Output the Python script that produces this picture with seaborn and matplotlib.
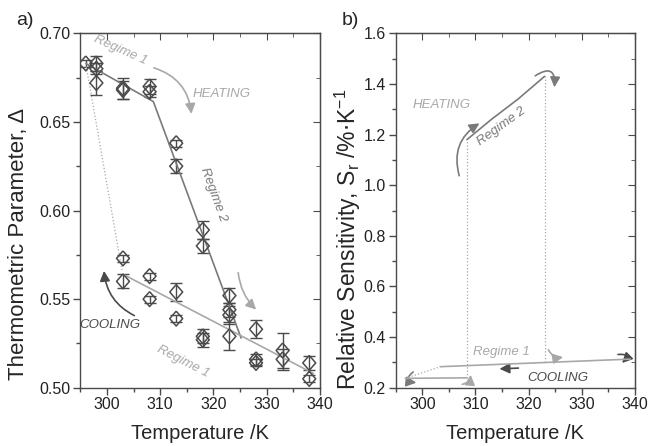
import numpy as np
import pandas as pd
import seaborn as sns
import matplotlib.pyplot as plt
from matplotlib.patches import FancyArrowPatch
from matplotlib.ticker import MultipleLocator

sns.set_style("ticks")
plt.rcParams['font.family'] = ['Liberation Sans', 'DejaVu Sans']

# ---- panel a data (temperature, thermometric parameter, error) ----
temp_a = [296, 298, 298, 298, 303, 303, 308, 308, 313, 313, 318, 318, 323, 323, 323,
          328, 328, 328, 333, 333, 338, 338,
          303, 303, 308, 308, 313, 313, 318, 318, 323]
delta_a = [0.683, 0.683, 0.680, 0.672, 0.669, 0.668, 0.670, 0.667, 0.638, 0.625, 0.589, 0.580,
           0.552, 0.544, 0.541, 0.533, 0.516, 0.514, 0.521, 0.516, 0.514, 0.505,
           0.573, 0.560, 0.563, 0.550, 0.554, 0.539, 0.529, 0.527, 0.529]
err_a = [0.002, 0.004, 0.003, 0.007, 0.006, 0.005, 0.004, 0.003, 0.002, 0.004, 0.005, 0.004,
         0.004, 0.004, 0.005, 0.005, 0.003, 0.002, 0.010, 0.006, 0.004, 0.002,
         0.002, 0.004, 0.002, 0.002, 0.005, 0.002, 0.004, 0.004, 0.008]

# fit lines
heat_T = [296, 308.7, 325.2]
heat_D = [0.683, 0.6615, 0.528]
cool_T = [303, 338.8]
cool_D = [0.564, 0.508]
jump_T = [296, 302.8]
jump_D = [0.683, 0.5665]

# ---- panel b data (relative sensitivity) ----
r2_T = [308.4, 313, 318, 323]
r2_S = [1.18, 1.26, 1.34, 1.43]
r1_T = [303.4, 339.1]
r1_S = [0.283, 0.313]
low_T = [296.8, 308.4]
low_S = [0.237, 0.239]
drop_T = [296.8, 303.4]
drop_S = [0.237, 0.283]

fig = plt.figure(figsize=(6.49, 4.46), dpi=100)
ax1 = fig.add_axes([0.1239, 0.1307, 0.369, 0.7946])
ax2 = fig.add_axes([0.6097, 0.1307, 0.3687, 0.7946])

dark = '#4a4a4a'
mid = '#7a7a7a'
light = '#a8a8a8'
diamond = [(0, 1.15), (1, 0), (0, -1.15), (-1, 0), (0, 1.15)]

# panel a
df_a = pd.DataFrame({'T': temp_a, 'D': delta_a, 'e': err_a})
ax1.errorbar(df_a['T'], df_a['D'], yerr=df_a['e'], fmt='none', ecolor=dark,
             elinewidth=1, capsize=4, capthick=1, zorder=2)
sns.lineplot(x=heat_T, y=heat_D, ax=ax1, color=mid, lw=1.2, zorder=3)
sns.lineplot(x=cool_T, y=cool_D, ax=ax1, color=light, lw=1.2, zorder=3)
ax1.plot(jump_T, jump_D, color=light, lw=0.9, ls=':', zorder=3)
sns.scatterplot(data=df_a, x='T', y='D', ax=ax1, marker=diamond, s=115,
                facecolor='none', edgecolor=dark, linewidth=1.1, zorder=4)

ax1.set_xlim(295, 340)
ax1.set_ylim(0.50, 0.70)
ax1.xaxis.set_major_locator(MultipleLocator(10))
ax1.xaxis.set_minor_locator(MultipleLocator(5))
ax1.yaxis.set_major_locator(MultipleLocator(0.05))
ax1.yaxis.set_minor_locator(MultipleLocator(0.025))
ax1.yaxis.set_major_formatter(plt.FormatStrFormatter('%.2f'))
ax1.set_xlabel('Temperature /K', fontsize=14.5, labelpad=8)
ax1.set_ylabel('Thermometric Parameter, Δ', fontsize=16)
ax1.yaxis.set_label_coords(-0.214, 0.405)

ti = dict(fontstyle='italic', fontsize=9.5)
ax1.text(302.5, 0.6906, 'Regime 1', color=light, rotation=-24, ha='center', va='center', **ti)
ax1.text(321.6, 0.666, 'HEATING', color=light, ha='center', va='center', **ti)
ax1.text(320, 0.609, 'Regime 2', color=mid, rotation=-70, ha='center', va='center', **ti)
ax1.text(300.6, 0.5356, 'COOLING', color=dark, ha='center', va='center', **ti)
ax1.text(314.3, 0.5148, 'Regime 1', color=light, rotation=-27, ha='center', va='center', **ti)
ax1.text(-0.231, 1.0375, 'a)', fontsize=14, ha='center', va='center', transform=ax1.transAxes)

hs = '-|>,head_length=6,head_width=3'
ax1.add_patch(FancyArrowPatch((308.3, 0.681), (315.9, 0.653), connectionstyle='arc3,rad=-0.35',
                              arrowstyle=hs, color=light, lw=1.2))
ax1.add_patch(FancyArrowPatch((324.6, 0.5665), (328.4, 0.543), connectionstyle='arc3,rad=0.2',
                              arrowstyle=hs, color=light, lw=1.2))
ax1.add_patch(FancyArrowPatch((305.6, 0.540), (299.4, 0.5675), connectionstyle='arc3,rad=-0.3',
                              arrowstyle=hs, color=dark, lw=1.2))

# panel b
sns.lineplot(x=r2_T, y=r2_S, ax=ax2, color=mid, lw=1.2)
sns.lineplot(x=r1_T, y=r1_S, ax=ax2, color=light, lw=1.2)
sns.lineplot(x=low_T, y=low_S, ax=ax2, color=light, lw=1.2)
ax2.plot(drop_T, drop_S, color=light, lw=0.9, ls=':')
ax2.plot([r2_T[0], r2_T[0]], [low_S[1], r2_S[0]], color=light, lw=0.9, ls=':')
ax2.plot([r2_T[-1], r2_T[-1]], [0.30, r2_S[-1]], color=light, lw=0.9, ls=':')

ax2.set_xlim(295, 340)
ax2.set_ylim(0.2, 1.6)
ax2.xaxis.set_major_locator(MultipleLocator(10))
ax2.xaxis.set_minor_locator(MultipleLocator(5))
ax2.yaxis.set_major_locator(MultipleLocator(0.2))
ax2.yaxis.set_minor_locator(MultipleLocator(0.1))
ax2.yaxis.set_major_formatter(plt.FormatStrFormatter('%.1f'))
ax2.set_xlabel('Temperature /K', fontsize=14.5, labelpad=8)
ax2.set_ylabel('Relative Sensitivity, S$_\\mathregular{r}$ /%$\\cdot$K$^\\mathregular{-1}$', fontsize=16.5)
ax2.yaxis.set_label_coords(-0.138, 0.42)

ax2.text(303.7, 1.317, 'HEATING', color=light, ha='center', va='center', **ti)
ax2.text(314.9, 1.231, 'Regime 2', color=mid, rotation=36, ha='center', va='center', **ti)
ax2.text(314.9, 0.343, 'Regime 1', color=light, ha='center', va='center', **ti)
ax2.text(325.4, 0.237, 'COOLING', color=dark, ha='center', va='center', **ti)
ax2.text(-0.191, 1.0375, 'b)', fontsize=14, ha='center', va='center', transform=ax2.transAxes)

ax2.add_patch(FancyArrowPatch((307.1, 1.027), (311.2, 1.25), connectionstyle='arc3,rad=-0.4',
                              arrowstyle=hs, color=mid, lw=1.2))
ax2.add_patch(FancyArrowPatch((320.8, 1.426), (324.8, 1.376), connectionstyle='arc3,rad=-1.1',
                              arrowstyle=hs, color=mid, lw=1.2))
ax2.add_patch(FancyArrowPatch((323.5, 0.36), (327, 0.323), connectionstyle='arc3,rad=0.45',
                              arrowstyle=hs, color=light, lw=1.2))
ax2.add_patch(FancyArrowPatch((336.3, 0.33), (337.2, 0.29), connectionstyle='arc3,rad=-1.6',
                              arrowstyle=hs, color=dark, lw=1.2, clip_on=False))
ax2.add_patch(FancyArrowPatch((318.6, 0.278), (314, 0.274), connectionstyle='arc3,rad=0',
                              arrowstyle=hs, color=dark, lw=1.2))
ax2.add_patch(FancyArrowPatch((298.7, 0.269), (299.4, 0.219), connectionstyle='arc3,rad=1.4',
                              arrowstyle=hs, color=mid, lw=1.2, clip_on=False))
ax2.add_patch(FancyArrowPatch((307, 0.212), (309.1, 0.262), connectionstyle='arc3,rad=0.5',
                              arrowstyle=hs, color=light, lw=1.2))

for ax in (ax1, ax2):
    for sp in ax.spines.values():
        sp.set_visible(True)
        sp.set_color(dark)
        sp.set_linewidth(1)
    ax.tick_params(axis='both', which='major', direction='out', length=5, width=1,
                   color=dark, labelsize=11.5, pad=2)
    ax.tick_params(axis='both', which='minor', direction='out', length=3, width=1, color=dark)
    sec_x = ax.secondary_xaxis('top')
    sec_x.xaxis.set_major_locator(MultipleLocator(10))
    sec_x.xaxis.set_minor_locator(MultipleLocator(5))
    sec_x.tick_params(which='major', direction='in', length=5, color=dark, labeltop=False)
    sec_x.tick_params(which='minor', direction='in', length=3, color=dark)
    sec_y = ax.secondary_yaxis('right')
    sec_y.yaxis.set_major_locator(ax.yaxis.get_major_locator())
    sec_y.yaxis.set_minor_locator(ax.yaxis.get_minor_locator())
    sec_y.tick_params(which='major', direction='in', length=5, color=dark, labelright=False)
    sec_y.tick_params(which='minor', direction='in', length=3, color=dark)
    for lab in ax.get_xticklabels() + ax.get_yticklabels():
        lab.set_color('#222222')

fig.savefig('out.png', dpi=100)
